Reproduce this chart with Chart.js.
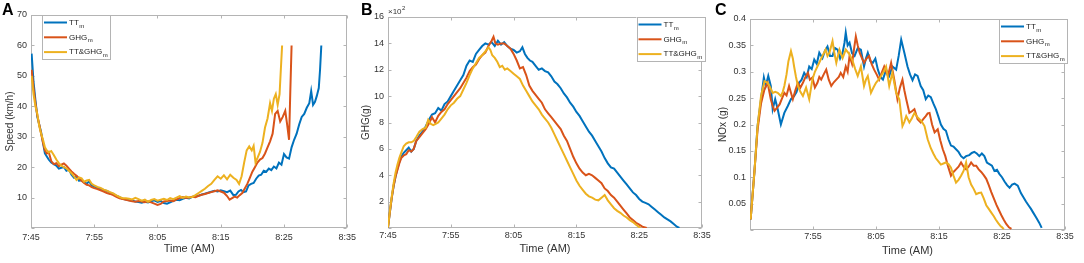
<!DOCTYPE html>
<html>
<head>
<meta charset="utf-8">
<script src="https://cdn.jsdelivr.net/npm/chart.js@4/dist/chart.umd.min.js"></script>
<style>
  body { margin: 0; background: #fff; }
  canvas { position: absolute; top: 0; }
</style>
</head>
<body>
<canvas id="chartA" width="360" height="263" style="left:0"></canvas>
<canvas id="chartB" width="360" height="263" style="left:360px"></canvas>
<canvas id="chartC" width="372" height="263" style="left:712px"></canvas>
<script>
// Three panels: speed, GHG and NOx over the morning trip (minutes after 7:45)

const seriesNames = ['TT', 'GHG', 'TT&GHG'];
const seriesColors = ['#0072BD', '#D95319', '#EDB120'];
const timeTickLabels = ['7:45', '7:55', '8:05', '8:15', '8:25', '8:35'];

// Panel A - speed (km/h), [minute, value]
const speedTT = [[0.1,57.3],[0.4,48],[0.7,42],[1.0,36.5],[1.3,34],[1.6,31.5],[1.9,28],[2.2,24.5],[2.5,23.5],[2.8,22.5],
  [3.2,21.5],[3.6,21],[4.0,20.5],[4.4,19.5],[4.8,19.8],[5.2,20],[5.6,18.8],[6.0,19.2],[6.4,17.5],[6.8,16.5],
  [7.2,17],[7.6,15.5],[8.0,15.8],[8.4,15],[8.8,14.6],[9.2,15.3],[9.6,14],[10.0,13.6],[10.5,13.2],[11.0,12.9],
  [11.5,12.4],[12.0,12.2],[12.5,11.6],[13.0,11.2],[13.5,10.6],[14.0,10.1],[14.5,9.6],[15.0,9.4],[15.5,9.1],[16.0,9.0],
  [16.5,8.7],[17.0,8.5],[17.5,8.3],[18.0,8.6],[18.5,8.4],[19.0,8.8],[19.5,9.1],[20.0,8.6],[20.5,8.9],[21.0,8.2],
  [21.5,8.0],[22.0,8.4],[22.5,8.9],[23.0,9.3],[23.5,9.1],[24.0,9.6],[24.5,9.9],[25.0,9.7],[25.5,10.2],[26.0,10.4],
  [26.5,10.6],[27.0,11.0],[27.5,11.3],[28.0,11.6],[28.5,11.9],[29.0,12.2],[29.5,12.0],[30.0,12.4],[30.5,12.1],[31.0,11.8],
  [31.5,12.3],[32.0,10.8],[32.4,10.9],[32.8,12.0],[33.2,12.5],[33.6,11.8],[34.0,12.0],[34.4,14.0],[34.8,14.5],[35.2,14.8],
  [35.6,16.2],[36.0,17.2],[36.4,17.5],[36.8,18.8],[37.2,18.5],[37.6,19.5],[38.0,19.0],[38.4,20.2],[38.8,19.6],[39.2,21.5],
  [39.6,20.8],[40.0,24.3],[40.4,23.2],[40.8,22.8],[41.2,26.5],[41.6,29],[42.0,31],[42.4,34],[42.8,36.5],[43.2,37.5],
  [43.6,39.5],[44.0,41],[44.3,45],[44.6,40.5],[44.9,41.5],[45.2,43.5],[45.5,46],[45.7,52],[45.9,60]];
const speedGHG = [[0.1,52],[0.4,46],[0.7,41],[1.0,37],[1.3,34],[1.6,31],[1.9,28],[2.2,25.5],[2.5,24.5],[2.8,25],
  [3.2,22],[3.6,21],[4.0,21.3],[4.4,20.3],[4.8,20.8],[5.2,21.2],[5.6,20.5],[6.0,19.5],[6.4,18.6],[6.8,17.8],
  [7.2,17.2],[7.6,16.4],[8.0,15.5],[8.4,14.8],[8.8,14.2],[9.2,14.0],[9.6,13.4],[10.0,13.1],[10.5,12.8],[11.0,12.4],
  [11.5,12.0],[12.0,11.5],[12.5,11.2],[13.0,10.8],[13.5,10.2],[14.0,9.8],[14.5,9.5],[15.0,9.3],[15.5,9.0],[16.0,8.8],
  [16.5,8.6],[17.0,8.9],[17.5,8.7],[18.0,8.5],[18.5,8.8],[19.0,8.4],[19.5,8.0],[20.0,7.6],[20.5,7.9],[21.0,8.7],
  [21.5,8.9],[22.0,9.0],[22.5,8.8],[23.0,9.4],[23.5,9.8],[24.0,10.2],[24.5,9.9],[25.0,10.0],[25.5,10.3],[26.0,10.1],
  [26.5,10.6],[27.0,10.9],[27.5,11.2],[28.0,11.5],[28.5,11.8],[29.0,12.1],[29.5,12.4],[30.0,12.0],[30.5,11.6],[31.0,10.5],
  [31.4,9.3],[31.8,9.8],[32.2,10.3],[32.6,10.0],[33.0,10.8],[33.4,11.5],[33.8,13.0],[34.2,14.5],[34.6,16.5],[35.0,18.5],
  [35.4,20.0],[35.8,21.5],[36.2,22.5],[36.6,23.0],[37.0,24.5],[37.4,26.5],[37.8,28.5],[38.2,31],[38.6,37.5],[39.0,38.5],
  [39.4,35],[39.8,36.5],[40.2,38.5],[40.5,34],[40.8,29],[41.0,45],[41.2,60]];
const speedTTGHG = [[0.1,50],[0.4,44],[0.7,40],[1.0,37.5],[1.3,33.5],[1.6,31],[1.9,29],[2.2,26.5],[2.5,25.5],[2.8,24.8],
  [3.2,25.3],[3.6,24],[4.0,22.5],[4.4,21.3],[4.8,20.5],[5.2,20.0],[5.6,19.6],[6.0,18.8],[6.4,18.0],[6.8,17.0],
  [7.2,15.8],[7.6,16.6],[8.0,16.3],[8.4,15.2],[8.8,15.6],[9.2,15.8],[9.6,14.5],[10.0,14.0],[10.5,13.5],[11.0,13.2],
  [11.5,12.6],[12.0,12.3],[12.5,11.8],[13.0,11.4],[13.5,10.7],[14.0,10.2],[14.5,9.8],[15.0,9.8],[15.5,9.6],[16.0,9.4],
  [16.5,9.9],[17.0,9.5],[17.5,9.0],[18.0,9.3],[18.5,8.6],[19.0,9.2],[19.5,9.5],[20.0,9.0],[20.5,9.3],[21.0,9.6],
  [21.5,9.2],[22.0,9.8],[22.5,9.5],[23.0,10.0],[23.5,10.5],[24.0,9.9],[24.5,10.3],[25.0,10.0],[25.5,10.2],[26.0,10.8],
  [26.5,11.5],[27.0,12.2],[27.5,12.9],[28.0,13.8],[28.5,14.5],[29.0,15.8],[29.5,17.0],[30.0,16.2],[30.5,17.3],[31.0,16.0],
  [31.5,17.5],[32.0,16.5],[32.5,15.8],[32.9,14.5],[33.3,17.0],[33.7,21.5],[34.1,25.5],[34.5,26.8],[34.9,25.5],[35.2,27.0],
  [35.5,21.5],[35.8,23.0],[36.2,25.0],[36.6,28.0],[37.0,33.0],[37.4,36.0],[37.8,41.0],[38.1,38.5],[38.4,42.5],[38.7,44.0],
  [39.0,40.5],[39.3,44.0],[39.5,52],[39.7,60]];

// Panel B - GHG (x100 g), [minute, value]
const ghgTT = [[0,0.05],[0.3,1.2],[0.6,2.3],[0.9,3.2],[1.2,3.9],[1.5,4.5],[1.8,5.0],[2.1,5.4],[2.5,5.7],[2.9,5.9],
  [3.3,6.1],[3.7,5.8],[4.1,6.0],[4.5,6.6],[5.0,7.0],[5.5,7.3],[6.0,7.7],[6.5,8.2],[7.0,8.6],[7.5,8.7],
  [8.0,9.1],[8.5,8.9],[9.0,9.4],[9.5,9.6],[10.0,10.0],[10.5,10.4],[11.0,10.8],[11.5,11.2],[12.0,11.6],[12.5,12.3],
  [13.0,12.7],[13.5,12.6],[14.0,13.2],[14.5,13.5],[15.0,13.8],[15.5,14.0],[16.0,13.9],[16.5,14.1],[17.0,13.8],[17.5,14.2],
  [18.0,13.9],[18.5,14.1],[19.0,13.8],[19.5,13.6],[20.0,13.5],[20.5,13.3],[21.0,13.4],[21.4,13.7],[21.8,13.2],[22.2,12.9],
  [22.6,12.7],[23.0,12.6],[23.5,12.3],[24.0,12.0],[24.5,12.1],[25.0,11.9],[25.5,11.8],[26.0,11.5],[26.5,11.1],[27.0,10.9],
  [27.5,10.6],[28.0,10.2],[28.5,9.9],[29.0,9.5],[29.5,9.2],[30.0,8.8],[30.5,8.5],[31.0,8.1],[31.5,7.7],[32.0,7.3],
  [32.5,7.0],[33.0,6.6],[33.5,6.2],[34.0,5.8],[34.5,5.3],[35.0,4.9],[35.5,4.6],[36.0,4.5],[36.5,4.2],[37.0,3.9],
  [37.5,3.6],[38.0,3.3],[38.5,3.0],[39.0,2.7],[39.5,2.5],[40.0,2.2],[40.5,2.0],[41.0,1.9],[41.5,1.8],[42.0,1.6],
  [42.5,1.4],[43.0,1.2],[43.5,1.0],[44.0,0.8],[44.5,0.65],[45.0,0.5],[45.5,0.3],[46.0,0.1],[46.4,0.0]];
const ghgGHG = [[0,0.05],[0.3,1.2],[0.6,2.3],[0.9,3.2],[1.2,3.9],[1.5,4.4],[1.8,4.9],[2.1,5.3],[2.5,5.5],[2.9,5.6],
  [3.3,5.9],[3.7,5.8],[4.1,6.0],[4.5,6.6],[5.0,6.9],[5.5,7.2],[6.0,7.5],[6.5,7.9],[7.0,8.4],[7.5,8.0],
  [8.0,8.5],[8.5,8.8],[9.0,9.0],[9.5,9.4],[10.0,9.7],[10.5,10.0],[11.0,10.3],[11.5,10.6],[12.0,11.0],[12.5,11.4],
  [13.0,11.9],[13.5,12.2],[14.0,12.4],[14.5,12.8],[15.0,13.1],[15.5,13.3],[16.0,13.8],[16.5,14.2],[16.8,14.5],[17.1,14.0],
  [17.5,13.9],[18.0,14.0],[18.5,14.0],[19.0,13.8],[19.5,13.6],[20.0,13.2],[20.5,12.7],[21.0,12.1],[21.5,12.2],[22.0,11.6],
  [22.5,10.8],[23.0,10.4],[23.5,10.1],[24.0,9.8],[24.5,9.5],[25.0,9.0],[25.5,8.7],[26.0,8.4],[26.5,8.1],[27.0,7.8],
  [27.5,7.5],[28.0,7.0],[28.5,6.6],[29.0,6.0],[29.5,5.4],[30.0,4.9],[30.5,4.5],[31.0,4.2],[31.5,4.0],[32.0,4.1],
  [32.5,4.0],[33.0,3.8],[33.5,3.6],[34.0,3.4],[34.5,3.0],[35.0,2.8],[35.5,2.5],[36.0,2.3],[36.5,2.0],[37.0,1.7],
  [37.5,1.4],[38.0,1.1],[38.5,0.8],[39.0,0.6],[39.5,0.4],[40.0,0.25],[40.5,0.1],[41.2,0.0]];
const ghgTTGHG = [[0,0.05],[0.3,1.3],[0.6,2.4],[0.9,3.4],[1.2,4.2],[1.5,4.8],[1.8,5.3],[2.1,5.7],[2.5,6.2],[2.9,6.4],
  [3.3,6.5],[3.7,6.5],[4.1,6.6],[4.5,6.9],[5.0,7.3],[5.5,7.5],[6.0,7.6],[6.4,8.2],[6.8,7.9],[7.2,7.8],
  [7.6,7.9],[8.0,8.0],[8.5,8.3],[9.0,8.6],[9.5,9.0],[10.0,9.3],[10.5,9.5],[11.0,9.8],[11.5,10.0],[12.0,10.5],
  [12.5,11.0],[13.0,11.6],[13.5,12.1],[14.0,12.5],[14.5,12.9],[15.0,13.1],[15.5,13.4],[16.0,13.7],[16.3,13.5],[16.6,13.1],
  [17.0,12.9],[17.4,12.6],[17.8,12.2],[18.2,12.3],[18.6,12.0],[19.0,12.1],[19.5,11.9],[20.0,11.7],[20.5,11.5],[21.0,11.3],
  [21.5,10.8],[22.0,10.4],[22.5,10.0],[23.0,9.6],[23.5,9.3],[24.0,9.0],[24.5,8.6],[25.0,8.3],[25.5,8.0],[26.0,7.6],
  [26.5,7.1],[27.0,6.6],[27.5,6.1],[28.0,5.6],[28.5,5.1],[29.0,4.6],[29.5,4.1],[30.0,3.6],[30.5,3.2],[31.0,2.9],
  [31.5,2.6],[32.0,2.4],[32.5,2.3],[33.0,2.15],[33.5,2.1],[34.0,2.3],[34.5,2.5],[35.0,2.1],[35.5,1.8],[36.0,1.5],
  [36.5,1.3],[37.0,1.15],[37.5,0.95],[38.0,0.8],[38.5,0.6],[39.0,0.45],[39.5,0.25],[40.2,0.0]];

// Panel C - NOx (g), [minute, value]
const noxTT = [[0.1,0.02],[0.7,0.11],[1.2,0.197],[1.75,0.248],[2.2,0.289],[2.5,0.273],[2.9,0.292],[3.3,0.273],[3.6,0.229],[4.0,0.248],
  [4.4,0.229],[4.9,0.2],[5.45,0.222],[6.0,0.235],[6.5,0.248],[7.0,0.254],[7.4,0.262],[7.8,0.279],[8.2,0.285],[8.6,0.298],
  [9.0,0.29],[9.4,0.31],[9.8,0.305],[10.2,0.323],[10.6,0.315],[11.0,0.336],[11.5,0.326],[11.9,0.34],[12.3,0.348],[12.7,0.33],
  [13.1,0.33],[13.5,0.345],[13.9,0.342],[14.3,0.325],[14.7,0.336],[15.0,0.355],[15.2,0.374],[15.5,0.35],[15.8,0.355],[16.2,0.335],
  [16.6,0.33],[17.1,0.345],[17.6,0.342],[18.1,0.31],[18.4,0.325],[18.7,0.336],[19.1,0.32],[19.5,0.317],[19.9,0.325],[20.3,0.304],
  [20.7,0.29],[21.1,0.285],[21.6,0.304],[22.1,0.292],[22.6,0.31],[23.2,0.304],[23.6,0.33],[24.0,0.361],[24.5,0.336],[25.0,0.31],
  [25.4,0.295],[25.8,0.284],[26.2,0.295],[26.6,0.292],[27.1,0.273],[27.5,0.265],[27.9,0.248],[28.3,0.255],[28.7,0.252],[29.1,0.24],
  [29.5,0.229],[29.9,0.215],[30.3,0.2],[30.7,0.192],[31.1,0.188],[31.5,0.172],[31.9,0.16],[32.3,0.158],[32.7,0.153],[33.1,0.148],
  [33.5,0.14],[33.9,0.136],[34.3,0.14],[34.8,0.142],[35.2,0.146],[35.6,0.148],[36.0,0.145],[36.4,0.14],[36.8,0.145],[37.2,0.14],
  [37.6,0.128],[38.0,0.125],[38.4,0.122],[38.8,0.112],[39.2,0.114],[39.6,0.106],[40.0,0.1],[40.4,0.092],[40.8,0.085],[41.2,0.08],
  [41.6,0.086],[42.0,0.088],[42.5,0.084],[43.0,0.07],[43.4,0.062],[43.8,0.054],[44.2,0.047],[44.6,0.04],[45.0,0.032],[45.4,0.024],
  [45.9,0.014],[46.3,0.004]];
const noxGHG = [[0.1,0.02],[0.7,0.11],[1.2,0.19],[1.75,0.24],[2.3,0.267],[2.8,0.279],[3.3,0.248],[3.6,0.235],[3.9,0.226],[4.3,0.232],
  [4.7,0.238],[5.1,0.25],[5.45,0.26],[5.8,0.255],[6.2,0.273],[6.5,0.26],[6.8,0.248],[7.2,0.265],[7.6,0.279],[8.0,0.27],
  [8.4,0.279],[8.8,0.29],[9.2,0.298],[9.5,0.285],[9.9,0.289],[10.3,0.27],[10.7,0.279],[11.0,0.29],[11.3,0.285],[11.7,0.295],
  [12.1,0.304],[12.5,0.285],[12.9,0.273],[13.3,0.28],[13.7,0.285],[14.1,0.29],[14.4,0.298],[14.8,0.29],[15.2,0.31],[15.5,0.3],
  [15.8,0.33],[16.2,0.315],[16.5,0.342],[16.8,0.367],[17.1,0.35],[17.4,0.336],[17.8,0.325],[18.1,0.317],[18.5,0.325],[18.9,0.33],
  [19.3,0.315],[19.7,0.304],[20.1,0.295],[20.5,0.285],[20.9,0.298],[21.3,0.31],[21.6,0.3],[21.9,0.292],[22.4,0.317],[22.9,0.285],
  [23.4,0.248],[23.8,0.27],[24.2,0.285],[24.5,0.265],[24.8,0.248],[25.3,0.222],[25.7,0.225],[26.1,0.229],[26.6,0.21],[27.1,0.204],
  [27.5,0.21],[27.9,0.216],[28.2,0.221],[28.5,0.222],[28.9,0.2],[29.3,0.185],[29.8,0.191],[30.2,0.17],[30.6,0.153],[31.0,0.14],
  [31.4,0.122],[31.9,0.103],[32.3,0.11],[32.7,0.115],[33.1,0.12],[33.5,0.128],[33.9,0.12],[34.3,0.115],[34.7,0.12],[35.1,0.128],
  [35.5,0.122],[35.9,0.122],[36.3,0.115],[36.7,0.11],[37.1,0.104],[37.5,0.097],[37.9,0.085],[38.3,0.072],[38.7,0.06],[39.1,0.048],
  [39.5,0.038],[39.9,0.028],[40.3,0.019],[40.7,0.011],[41.1,0.005],[41.5,0.002]];
const noxTTGHG = [[0.1,0.02],[0.7,0.11],[1.2,0.197],[1.75,0.254],[2.3,0.282],[2.8,0.279],[3.2,0.27],[3.6,0.26],[4.0,0.262],[4.4,0.26],
  [4.9,0.254],[5.2,0.262],[5.45,0.273],[5.8,0.295],[6.1,0.32],[6.5,0.339],[6.8,0.325],[7.0,0.31],[7.3,0.29],[7.6,0.273],
  [8.0,0.262],[8.4,0.254],[8.9,0.27],[9.4,0.248],[9.9,0.285],[10.3,0.3],[10.7,0.31],[11.1,0.32],[11.5,0.33],[12.0,0.342],
  [12.3,0.33],[12.6,0.336],[13.1,0.358],[13.4,0.335],[13.7,0.317],[14.2,0.342],[14.7,0.326],[15.2,0.342],[15.8,0.333],[16.3,0.32],
  [16.7,0.305],[17.1,0.292],[17.6,0.31],[18.1,0.273],[18.4,0.285],[18.7,0.292],[19.2,0.26],[19.6,0.27],[20.0,0.279],[20.4,0.285],
  [20.8,0.292],[21.2,0.3],[21.6,0.31],[22.1,0.273],[22.6,0.298],[23.2,0.26],[23.7,0.248],[24.2,0.197],[24.5,0.205],[24.8,0.216],
  [25.3,0.204],[25.7,0.212],[26.1,0.222],[26.5,0.215],[26.9,0.21],[27.3,0.205],[27.7,0.197],[28.2,0.172],[28.7,0.155],[29.1,0.145],
  [29.5,0.136],[29.9,0.13],[30.3,0.124],[30.7,0.126],[31.1,0.128],[31.5,0.125],[31.9,0.118],[32.3,0.103],[32.7,0.09],[33.1,0.095],
  [33.5,0.103],[33.9,0.112],[34.3,0.128],[34.7,0.1],[35.1,0.086],[35.5,0.078],[35.9,0.068],[36.3,0.07],[36.7,0.071],[37.1,0.06],
  [37.5,0.047],[37.9,0.04],[38.3,0.033],[38.7,0.026],[39.0,0.02],[39.4,0.013],[39.8,0.007],[40.3,0.002]];

Chart.defaults.font.family = "'Liberation Sans', Arial, sans-serif";
Chart.defaults.color = '#333';

const frameColor = '#b4b4b4';

// box, inward ticks, panel letter, legend with subscripts, exponent note
const decor = {
  id: 'decor',
  beforeDatasetsDraw(chart, args, opts) {
    const { ctx, chartArea: a, scales } = chart;
    ctx.save();
    ctx.strokeStyle = frameColor;
    ctx.lineWidth = 1;
    const L = Math.round(a.left) + 0.5, R = Math.round(a.right) - 0.5;
    const T = Math.round(a.top) + 0.5, B = Math.round(a.bottom) - 0.5;
    ctx.strokeRect(L, T, R - L, B - T);
    ctx.beginPath();
    scales.x.ticks.forEach(t => {
      const px = Math.round(scales.x.getPixelForValue(t.value)) + 0.5;
      ctx.moveTo(px, B); ctx.lineTo(px, B - 3);
      ctx.moveTo(px, T); ctx.lineTo(px, T + 3);
    });
    scales.y.ticks.forEach(t => {
      const py = Math.round(scales.y.getPixelForValue(t.value)) + 0.5;
      ctx.moveTo(L, py); ctx.lineTo(L + 3, py);
      ctx.moveTo(R, py); ctx.lineTo(R - 3, py);
    });
    ctx.stroke();
    ctx.restore();
  },
  afterDraw(chart, args, opts) {
    const { ctx, chartArea: a } = chart;
    const font = Chart.defaults.font.family;
    ctx.save();
    // panel letter
    ctx.fillStyle = '#000';
    ctx.font = 'bold 16px ' + font;
    ctx.textBaseline = 'top';
    ctx.fillText(opts.letter, opts.letterX, 3);

    // exponent note
    if (opts.exponent) {
      ctx.fillStyle = '#333';
      ctx.font = '8px ' + font;
      ctx.textBaseline = 'alphabetic';
      ctx.fillText('\u00d710', a.left, a.top - 3);
      const w = ctx.measureText('\u00d710').width;
      ctx.font = '6px ' + font;
      ctx.fillText(opts.exponent, a.left + w + 0.5, a.top - 7);
    }

    // legend
    const bw = 68, bh = 44;
    const bx = opts.legendLeft != null ? a.left + opts.legendLeft : a.right + opts.legendRight - bw;
    const by = a.top;
    ctx.fillStyle = '#fff';
    ctx.fillRect(bx, by, bw, bh);
    ctx.strokeStyle = frameColor;
    ctx.lineWidth = 1;
    ctx.strokeRect(Math.round(bx) + 0.5, Math.round(by) + 0.5, bw, bh);
    seriesNames.forEach((name, i) => {
      const yy = by + 7.5 + i * 14.8;
      ctx.strokeStyle = seriesColors[i];
      ctx.lineWidth = 2;
      ctx.beginPath();
      ctx.moveTo(bx + 2, yy);
      ctx.lineTo(bx + 25, yy);
      ctx.stroke();
      ctx.fillStyle = '#222';
      ctx.textBaseline = 'middle';
      ctx.font = '8px ' + font;
      ctx.fillText(name, bx + 27, yy);
      const w = ctx.measureText(name).width;
      ctx.font = '6px ' + font;
      ctx.fillText('m', bx + 27 + w + 0.5, yy + 3.5);
    });
    ctx.restore();
  }
};

function makeDatasets(series) {
  return series.map((pts, i) => ({
    label: seriesNames[i],
    data: pts.map(p => ({ x: p[0], y: p[1] })),
    borderColor: seriesColors[i],
    borderWidth: 2,
    pointRadius: 0,
    tension: 0,
    fill: false,
    order: 3 - i
  }));
}

function makeChart(id, series, cfg) {
  new Chart(document.getElementById(id), {
    type: 'line',
    data: { datasets: makeDatasets(series) },
    options: {
      responsive: false,
      animation: false,
      events: [],
      layout: { padding: { left: 0, right: cfg.padRight, top: cfg.padTop, bottom: 0 } },
      plugins: {
        legend: { display: false },
        tooltip: { enabled: false },
        decor: cfg.decor
      },
      scales: {
        x: {
          type: 'linear',
          min: 0, max: 50,
          grid: { display: false, drawTicks: false },
          border: { display: false },
          ticks: {
            stepSize: 10,
            autoSkip: false,
            maxRotation: 0,
            padding: cfg.xTickPad,
            font: { size: 9 },
            callback: v => (cfg.hideFirstTime && v === 0) ? '' : timeTickLabels[Math.round(v / 10)]
          },
          title: {
            display: true,
            text: 'Time (AM)',
            font: { size: 11 },
            padding: { top: 0, bottom: cfg.xTitlePad }
          },
          afterFit(scale) { scale.height = cfg.xHeight; }
        },
        y: {
          min: 0, max: cfg.yMax,
          grid: { display: false, drawTicks: false },
          border: { display: false },
          ticks: {
            stepSize: cfg.yStep,
            autoSkip: false,
            padding: 4,
            font: { size: 9 },
            callback: v => v === 0 ? '' : String(parseFloat(v.toFixed(2)))
          },
          title: {
            display: true,
            text: cfg.yTitle,
            font: { size: 10 },
            padding: { top: cfg.yTitlePad, bottom: 0 }
          },
          afterFit(scale) { scale.width = cfg.yWidth; }
        }
      }
    },
    plugins: [decor]
  });
}

makeChart('chartA', [speedTT, speedGHG, speedTTGHG], {
  padRight: 11, padTop: 15, xHeight: 35, yWidth: 31,
  yMax: 70, yStep: 10, yTitle: 'Speed (km/h)', yTitlePad: 4.5,
  xTickPad: 4, xTitlePad: 7.5, hideFirstTime: false,
  decor: { letter: 'A', letterX: 2, legendLeft: 11 }
});

makeChart('chartB', [ghgTT, ghgGHG, ghgTTGHG], {
  padRight: 18, padTop: 17, xHeight: 35, yWidth: 28,
  yMax: 16, yStep: 2, yTitle: 'GHG(g)', yTitlePad: 0,
  xTickPad: 2, xTitlePad: 7.5, hideFirstTime: false,
  decor: { letter: 'B', letterX: 1, legendRight: 2.5, exponent: '2' }
});

makeChart('chartC', [noxTT, noxGHG, noxTTGHG], {
  padRight: 19, padTop: 19, xHeight: 33, yWidth: 38,
  yMax: 0.4, yStep: 0.05, yTitle: 'NOx (g)', yTitlePad: 5,
  xTickPad: 1, xTitlePad: 5, hideFirstTime: true,
  decor: { letter: 'C', letterX: 3, legendRight: 2 }
});
</script>
</body>
</html>
